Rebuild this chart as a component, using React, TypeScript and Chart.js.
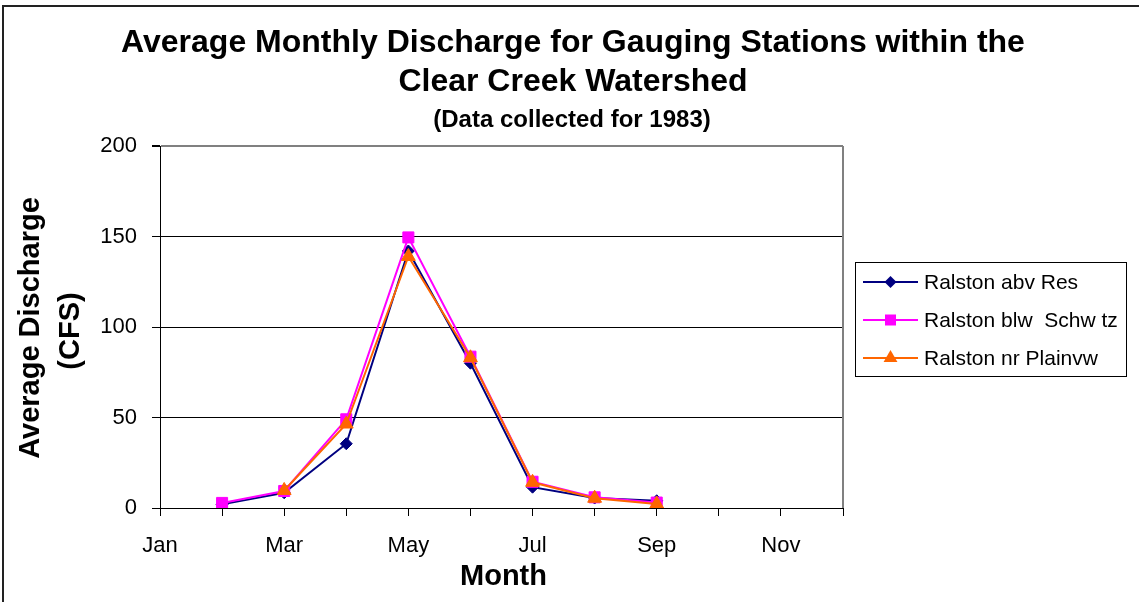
import { useEffect, useRef } from 'react';
import { Chart, registerables } from 'chart.js';

Chart.register(...registerables);

const months = ['Jan', 'Feb', 'Mar', 'Apr', 'May', 'Jun', 'Jul', 'Aug', 'Sep', 'Oct', 'Nov', 'Dec'];
const xTickLabels = ['Jan', '', 'Mar', '', 'May', '', 'Jul', '', 'Sep', '', 'Nov', ''];
const ralstonAbvRes = [null, 2.0, 8.4, 35.5, 142, 80, 11.5, 5.5, 4.0, null, null, null];
const ralstonBlwSchwtz = [null, 2.8, 9.4, 49, 149.5, 83.6, 14.5, 5.9, 3.0, null, null, null];
const ralstonNrPlainvw = [null, null, 9.7, 46.4, 139, 83, 14.2, 5.4, 2.2, null, null, null];
const seriesNames = ['Ralston abv Res', 'Ralston blw  Schw tz', 'Ralston nr Plainvw'];
const seriesColors = ['#000080', '#FF00FF', '#FF6600'];
const seriesMarkers = ['rectRot', 'rect', 'triangle'];
const titleLines = ['Average Monthly Discharge for Gauging Stations within the', 'Clear Creek Watershed'];
const subtitleText = '(Data collected for 1983)';
const yTitleLines = ['Average Discharge', '(CFS)'];
const xTitleText = 'Month';

const FONT = '"Liberation Sans", Arial, Helvetica, sans-serif';

function drawMarker(ctx: CanvasRenderingContext2D, style: string, x: number, y: number, color: string) {
  ctx.save();
  ctx.fillStyle = color;
  ctx.beginPath();
  if (style === 'rectRot') {
    const r = 6;
    ctx.moveTo(x, y - r);
    ctx.lineTo(x + r, y);
    ctx.lineTo(x, y + r);
    ctx.lineTo(x - r, y);
  } else if (style === 'rect') {
    const s = 5.5;
    ctx.rect(x - s, y - s, 2 * s, 2 * s);
  } else {
    const r = 8;
    ctx.moveTo(x, y - r);
    ctx.lineTo(x + r * 0.866, y + r * 0.5);
    ctx.lineTo(x - r * 0.866, y + r * 0.5);
  }
  ctx.closePath();
  ctx.fill();
  ctx.restore();
}

const decorPlugin = {
  id: 'decor',
  beforeDatasetsDraw(chart: any) {
    const { ctx, chartArea } = chart;
    ctx.save();
    ctx.strokeStyle = '#808080';
    ctx.lineWidth = 2;
    ctx.beginPath();
    ctx.moveTo(chartArea.right, chartArea.top);
    ctx.lineTo(chartArea.right, chartArea.bottom);
    ctx.stroke();
    ctx.restore();
  },
  afterDraw(chart: any) {
    const { ctx, chartArea } = chart;
    ctx.save();
    // outer frame
    ctx.strokeStyle = '#222';
    ctx.lineWidth = 2;
    ctx.beginPath();
    ctx.moveTo(3, 602);
    ctx.lineTo(3, 6);
    ctx.lineTo(1139, 6);
    ctx.stroke();

    ctx.fillStyle = '#000';
    ctx.textAlign = 'center';
    ctx.textBaseline = 'alphabetic';
    ctx.font = `bold 32px ${FONT}`;
    ctx.fillText(titleLines[0], 573, 52);
    ctx.fillText(titleLines[1], 573, 91);
    ctx.font = `bold 24px ${FONT}`;
    ctx.fillText(subtitleText, 572, 127);

    // x title
    ctx.font = `bold 29px ${FONT}`;
    ctx.textBaseline = 'middle';
    ctx.fillText(xTitleText, (chartArea.left + chartArea.right) / 2 + 2, 577);

    // y title
    ctx.save();
    ctx.translate(0, 328);
    ctx.rotate(-Math.PI / 2);
    ctx.fillText(yTitleLines[0], 0, 31);
    ctx.fillText(yTitleLines[1], -3, 71);
    ctx.restore();

    // legend
    ctx.strokeStyle = '#000';
    ctx.lineWidth = 1;
    ctx.strokeRect(855.5, 262.5, 271, 114);
    ctx.font = `21px ${FONT}`;
    ctx.textAlign = 'left';
    ctx.textBaseline = 'middle';
    const rows = [282, 320, 358];
    chart.data.datasets.forEach((ds: any, i: number) => {
      const y = rows[i];
      ctx.strokeStyle = seriesColors[i];
      ctx.lineWidth = 2;
      ctx.beginPath();
      ctx.moveTo(863, y);
      ctx.lineTo(918, y);
      ctx.stroke();
      drawMarker(ctx, seriesMarkers[i], 890.5, y, seriesColors[i]);
      ctx.fillStyle = '#000';
      ctx.fillText(ds.label, 924, y + 1);
    });
    ctx.restore();
  },
};

export default function App() {
  const ref = useRef<HTMLCanvasElement | null>(null);
  useEffect(() => {
    document.body.style.margin = '0';
    const canvas = ref.current;
    if (!canvas) return;
    const seriesData = [ralstonAbvRes, ralstonBlwSchwtz, ralstonNrPlainvw];
    const radii = [6, 7.8, 8];
    const chart = new Chart(canvas, {
      type: 'line',
      data: {
        labels: months,
        datasets: seriesData.map((d, i) => ({
          label: seriesNames[i],
          data: d,
          borderColor: seriesColors[i],
          backgroundColor: seriesColors[i],
          pointBackgroundColor: seriesColors[i],
          pointBorderColor: seriesColors[i],
          pointStyle: seriesMarkers[i] as any,
          pointRadius: radii[i],
          pointBorderWidth: 1,
          borderWidth: 2,
          tension: 0,
          order: 2 - i,
        })),
      },
      options: {
        responsive: false,
        animation: false,
        devicePixelRatio: 1,
        layout: { padding: { top: 146, right: 296, left: 0, bottom: 0 } },
        plugins: {
          legend: { display: false },
          title: { display: false },
          tooltip: { enabled: false },
        },
        scales: {
          x: {
            type: 'category',
            offset: false,
            grid: { drawOnChartArea: false, tickLength: 8, tickColor: '#000', offset: false },
            border: { color: '#000', width: 1 },
            ticks: {
              autoSkip: false,
              maxRotation: 0,
              padding: 17,
              color: '#000',
              font: { family: FONT, size: 22 },
              callback: (_v: any, i: number) => xTickLabels[i],
            },
            afterFit: (s: any) => {
              s.height = 94;
            },
          },
          y: {
            min: 0,
            max: 200,
            ticks: {
              stepSize: 50,
              padding: 15,
              color: '#000',
              font: { family: FONT, size: 22 },
            },
            grid: {
              color: (c: any) => (c.tick && c.tick.value === 200 ? '#808080' : '#000'),
              lineWidth: (c: any) => (c.tick && c.tick.value === 200 ? 2 : 1),
              tickLength: 8,
              tickColor: '#000',
            },
            border: { color: '#000', width: 1 },
            afterFit: (s: any) => {
              s.width = 160;
            },
          },
        },
      },
      plugins: [decorPlugin],
    });
    return () => chart.destroy();
  }, []);
  return <canvas ref={ref} width={1139} height={602} style={{ display: 'block' }} />;
}
